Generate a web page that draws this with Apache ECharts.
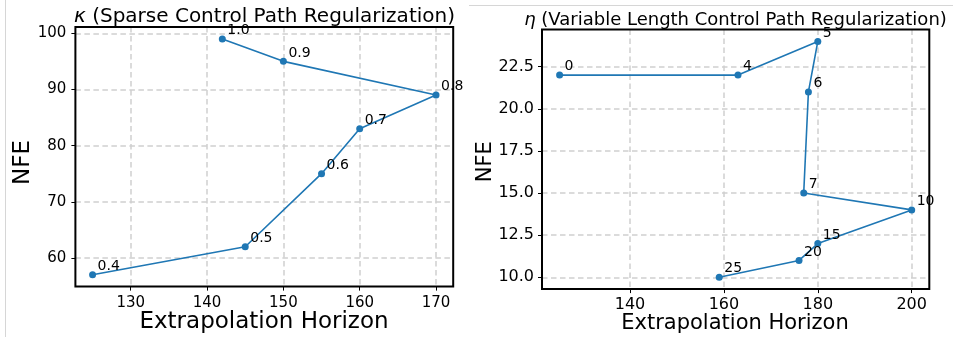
<!DOCTYPE html>
<html>
<head>
<meta charset="utf-8">
<script src="https://cdn.jsdelivr.net/npm/echarts@6/dist/echarts.min.js"></script>
<style>html,body{margin:0;padding:0;background:#fff;}#c{width:953px;height:338px;}</style>
</head>
<body>
<div id="c"></div>
<script>
// ---- data ----
var kappaX = [125, 145, 155, 160, 170, 150, 142];
var kappaY = [57, 62, 75, 83, 89, 95, 99];
var kappaLabels = ['0.4', '0.5', '0.6', '0.7', '0.8', '0.9', '1.0'];

var etaX = [125, 163, 180, 178, 177, 200, 180, 176, 159];
var etaY = [22, 22, 24, 21, 15, 14, 12, 11, 10];
var etaLabels = ['0', '4', '5', '6', '7', '10', '15', '20', '25'];

var leftXTicks = [130, 140, 150, 160, 170];
var leftYTicks = [60, 70, 80, 90, 100];
var rightXTicks = [140, 160, 180, 200];
var rightYTicks = [10, 12.5, 15, 17.5, 20, 22.5];

var leftTitle = '{i|κ} (Sparse Control Path Regularization)';
var rightTitle = '{i|η} (Variable Length Control Path Regularization)';
var xName = 'Extrapolation Horizon';
var yName = 'NFE';

// ---- helpers ----
function pad(arr) {
  var mn = Math.min.apply(null, arr), mx = Math.max.apply(null, arr);
  var m = (mx - mn) * 0.05;
  return [mn - m, mx + m];
}
var FONT = 'DejaVu Sans';
var gridLine = { show: true, lineStyle: { color: '#cfcfcf', width: 1.5, type: [5.5, 3.5] } };

function mkAxis(gi, range, ticks, interval, fs, margin, fmt) {
  return {
    type: 'value', gridIndex: gi, min: range[0], max: range[1],
    minInterval: interval, maxInterval: interval,
    axisLine: { show: false },
    axisTick: { show: true, length: 4, customValues: ticks, lineStyle: { color: '#000', width: 1 } },
    axisLabel: { show: true, customValues: ticks, fontFamily: FONT, fontSize: fs, color: '#000', margin: margin,
      formatter: fmt || function (v) { return String(v); } },
    splitLine: gridLine
  };
}

var lx = pad(kappaX), ly = pad(kappaY), rx = pad(etaX), ry = pad(etaY);

function pts(xs, ys, ls) {
  return xs.map(function (x, i) { return [x, ys[i], ls[i]]; });
}

function series(gi, data) {
  return {
    type: 'line', xAxisIndex: gi, yAxisIndex: gi, data: data,
    symbol: 'circle', symbolSize: 7, showAllSymbol: true,
    lineStyle: { color: '#1f77b4', width: 1.6 },
    itemStyle: { color: '#1f77b4' },
    label: { show: true, position: [8.5, 2], align: 'left', verticalAlign: 'bottom',
      fontFamily: FONT, fontSize: 14, color: '#000',
      formatter: function (p) { return p.data[2]; } },
    emphasis: { disabled: true },
    animation: false, z: 5
  };
}

function txt(x, y, text, fs, rot, rich) {
  var st = { text: text, x: 0, y: 0, fill: '#000', font: fs + 'px "' + FONT + '"',
    align: 'center', verticalAlign: 'middle' };
  if (rich) {
    st.rich = { i: { fontStyle: 'italic', fontSize: fs, fontFamily: FONT, fill: '#000' } };
    st.fontSize = fs; st.fontFamily = FONT;
  }
  return { type: 'text', x: x, y: y, rotation: rot || 0, style: st, z: 10 };
}

var chart = echarts.init(document.getElementById('c'), null, { renderer: 'canvas' });
chart.setOption({
  animation: false,
  backgroundColor: '#fff',
  grid: [
    { left: 75.4, right: 499.8, top: 27.1, bottom: 51.4, show: true, borderColor: '#000', borderWidth: 2, backgroundColor: 'transparent', z: 3 },
    { left: 542, right: 23.7, top: 29.6, bottom: 48.9, show: true, borderColor: '#000', borderWidth: 2, backgroundColor: 'transparent', z: 3 }
  ],
  xAxis: [
    mkAxis(0, lx, leftXTicks, 10, 15, 9),
    mkAxis(1, rx, rightXTicks, 20, 16, 8)
  ],
  yAxis: [
    mkAxis(0, ly, leftYTicks, 10, 15, 9),
    mkAxis(1, ry, rightYTicks, 2.5, 16, 8, function (v) { return v.toFixed(1); })
  ],
  series: [
    series(0, pts(kappaX, kappaY, kappaLabels)),
    series(1, pts(etaX, etaY, etaLabels))
  ],
  graphic: [
    { type: 'line', shape: { x1: 5.5, y1: 0, x2: 5.5, y2: 337 }, style: { stroke: '#d6d6d6', lineWidth: 1 } },
    { type: 'line', shape: { x1: 469, y1: 5.5, x2: 953, y2: 5.5 }, style: { stroke: '#d6d6d6', lineWidth: 1 } },
    txt(264.5, 17, leftTitle, 20, 0, true),
    txt(735.5, 20.5, rightTitle, 18, 0, true),
    txt(264, 322, xName, 23, 0),
    txt(735, 323.5, xName, 21, 0),
    txt(23.5, 162.5, yName, 23, Math.PI / 2),
    txt(485.5, 161.7, yName, 21, Math.PI / 2)
  ]
});
</script>
</body>
</html>
